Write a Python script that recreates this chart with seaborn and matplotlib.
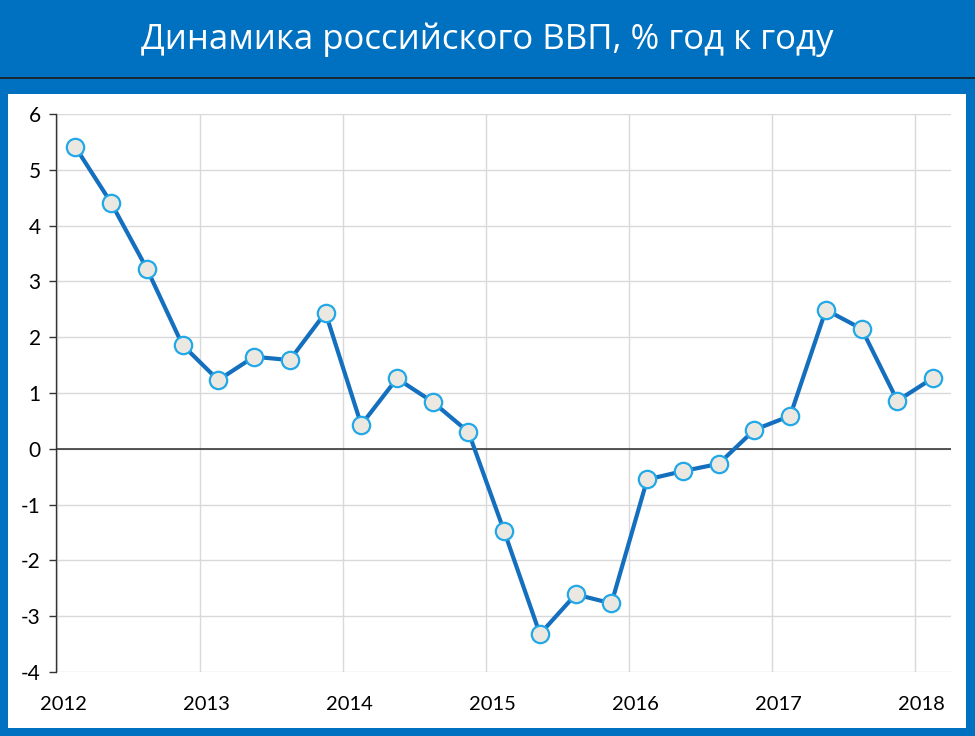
import numpy as np
import pandas as pd
import seaborn as sns
import matplotlib.pyplot as plt
from matplotlib.patches import Rectangle
from matplotlib.lines import Line2D
from matplotlib.transforms import ScaledTranslation

# quarterly GDP growth, % y/y, 2012Q1 .. 2018Q1
years = [2012, 2013, 2014, 2015, 2016, 2017, 2018]
quarters = ["2012Q1", "2012Q2", "2012Q3", "2012Q4",
            "2013Q1", "2013Q2", "2013Q3", "2013Q4",
            "2014Q1", "2014Q2", "2014Q3", "2014Q4",
            "2015Q1", "2015Q2", "2015Q3", "2015Q4",
            "2016Q1", "2016Q2", "2016Q3", "2016Q4",
            "2017Q1", "2017Q2", "2017Q3", "2017Q4",
            "2018Q1"]
gdp = [5.41, 4.41, 3.23, 1.86,
       1.23, 1.65, 1.59, 2.44,
       0.43, 1.26, 0.84, 0.30,
       -1.48, -3.32, -2.61, -2.77,
       -0.55, -0.40, -0.27, 0.34,
       0.59, 2.49, 2.15, 0.86,
       1.27]
yticks = [6, 5, 4, 3, 2, 1, 0, -1, -2, -3, -4]
title = "Динамика российского ВВП, % год к году"

# place each quarter in the middle of its quarter on a year axis
pos = [int(q[:4]) + (int(q[-1]) - 0.5) / 4 for q in quarters]
df = pd.DataFrame({"t": pos, "gdp": gdp})

sns.set_style("white")
plt.rcParams["font.family"] = ["Lato", "DejaVu Sans"]

BLUE = "#0070C0"
W, H = 975, 736
fig = plt.figure(figsize=(W / 100, H / 100), dpi=100, facecolor=BLUE)

# white panel and the thin black rule under the banner
fig.patches.append(Rectangle((8 / W, 1 - 728 / H), (966 - 8) / W, (728 - 94) / H,
                             transform=fig.transFigure, facecolor="white",
                             edgecolor="none", zorder=-1))
fig.lines.append(Line2D([0, 1], [1 - 78 / H] * 2, transform=fig.transFigure,
                        color="#1a1a1a", lw=1.2))
fig.text(0.5, 1 - 40 / H, title, color="white", fontsize=25,
         ha="center", va="center", family=["Open Sans", "DejaVu Sans"])

ax = fig.add_axes([56 / W, 1 - 672 / H, (951 - 56) / W, (672 - 114) / H])
ax.set_zorder(1)
ax.set_facecolor("white")

sns.lineplot(data=df, x="t", y="gdp", ax=ax, color="#1470BE", lw=3.0,
             marker="o", markersize=12.5, markerfacecolor="#EAE8E0",
             markeredgecolor="#22A8E6", markeredgewidth=1.6, zorder=5)

ax.set_xlim(2011.99, 2018.25)
ax.set_ylim(-4, 6)
ax.set_xticks(years)
ax.set_xticklabels([str(y) for y in years])
ax.set_yticks(yticks)
ax.set_yticklabels([str(v) for v in yticks])
ax.grid(True, color="#D9D9D9", lw=1)
ax.axhline(0, color="#2a2a2a", lw=1.1, zorder=3)
ax.set_xlabel("")
ax.set_ylabel("")

for s in ["top", "right", "bottom"]:
    ax.spines[s].set_visible(False)
ax.spines["left"].set_color("#333333")
ax.spines["left"].set_linewidth(1)

ax.tick_params(axis="y", left=True, length=5, width=1, color="#333333",
               labelsize=15, pad=6, labelcolor="black")
ax.tick_params(axis="x", bottom=False, labelsize=14.5, pad=14, labelcolor="black")
shift = ScaledTranslation(6 / 100, 0, fig.dpi_scale_trans)
for lab in ax.get_xticklabels():
    lab.set_transform(lab.get_transform() + shift)

fig.savefig("out.png", dpi=100, facecolor=BLUE)
